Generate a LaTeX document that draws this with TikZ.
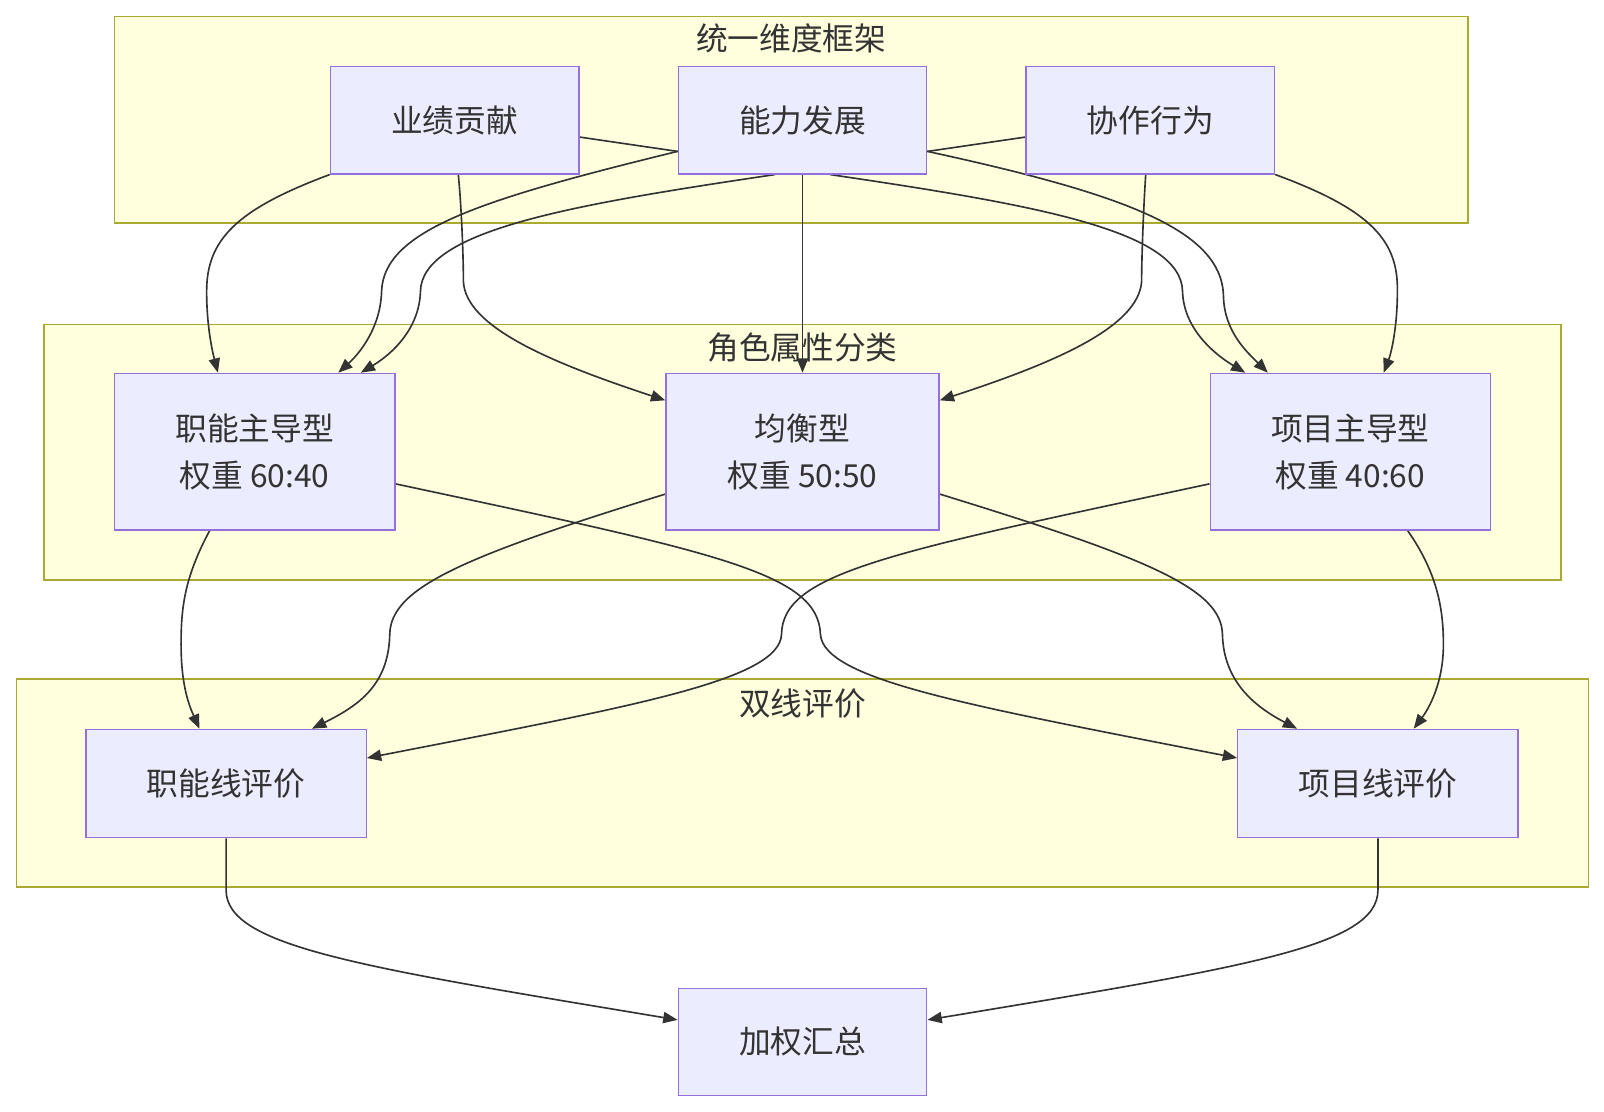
\documentclass[tikz,border=0pt]{standalone}
\usepackage{fontspec}
\setmainfont{Noto Sans CJK SC}
\usepackage{xcolor}
\usepackage{tikz}
\usetikzlibrary{calc, arrows.meta}
\definecolor{nodefill}{HTML}{ECECFF}
\definecolor{nodeline}{HTML}{9370DB}
\definecolor{grpfill}{HTML}{FFFFDE}
\definecolor{grpline}{HTML}{AAAA33}
\definecolor{ink}{HTML}{333333}
\pgfdeclarelayer{bg}
\pgfdeclarelayer{edges}
\pgfsetlayers{bg,edges,main}

\begin{document}
\begin{tikzpicture}[x=1pt, y=-1pt, >={Triangle[length=14pt, width=11pt]},
    box/.style={draw=nodeline, fill=nodefill, line width=1.3pt, text=ink, align=center, inner sep=0pt,
        font=\fontsize{31}{46}\selectfont},
    group/.style={draw=grpline, fill=grpfill, line width=1.5pt, inner sep=0pt},
    grouptitle/.style={text=ink, font=\fontsize{31}{40}\selectfont},
    link/.style={->, draw=ink, line width=1.6pt}]
    \useasboundingbox (0,0) rectangle (1568,1087);

    \begin{pgfonlayer}{bg}
        \node[group, minimum width=1323pt, minimum height=202pt] (c1) at (773.5,117) {};
        \node[group, minimum width=1483pt, minimum height=250pt] (c2) at (784.5,442) {};
        \node[group, minimum width=1537pt, minimum height=203pt] (c3) at (784.5,765.5) {};
    \end{pgfonlayer}
    \node[grouptitle] (t1) at (773.5,38) {统一维度框架};
    \node[grouptitle] (t2) at (784.5,340) {角色属性分类};
    \node[grouptitle] (t3) at (784.5,688) {双线评价};

    \node[box, minimum width=243pt, minimum height=105pt] (yj) at (444.5,117.5) {业绩贡献};
    \node[box, minimum width=243pt, minimum height=105pt] (nl) at (784.5,117.5) {能力发展};
    \node[box, minimum width=243pt, minimum height=105pt] (xz) at (1124.5,117.5) {协作行为};

    \node[box, minimum width=274pt, minimum height=153pt] (zn) at (249,441.5) {职能主导型\\权重 60:40};
    \node[box, minimum width=267pt, minimum height=153pt] (jh) at (784.5,441.5) {均衡型\\权重 50:50};
    \node[box, minimum width=274pt, minimum height=153pt] (xm) at (1320,441.5) {项目主导型\\权重 40:60};

    \node[box, minimum width=274pt, minimum height=106pt] (znx) at (221,766) {职能线评价};
    \node[box, minimum width=274pt, minimum height=106pt] (xmx) at (1347,766) {项目线评价};

    \node[box, minimum width=243pt, minimum height=105pt] (hz) at (784.5,1018.5) {加权汇总};

    \begin{pgfonlayer}{edges}
        \draw[link] (yj.south west) .. controls (230,205) and (202,235) .. (202,285)
            .. controls (202,320) and (208,345) .. ($(zn.north)+(-36,0)$);
        \draw[link] ($(yj.south)+(3.5,0)$) .. controls (451,200) and (453,250) .. (453,275)
            .. controls (455,320) and (540,355) .. ($(jh.north west)+(0,27)$);
        \draw[link] ($(yj.east)+(0,16.5)$) -- ($(nl.west)+(0,30.5)$) -- ($(nl.east)+(0,30.5)$)
            .. controls (1100,190) and (1195,225) .. (1196,290)
            .. controls (1197,325) and (1220,345) .. ($(xm.north west)+(57,0)$);

        \draw[link] ($(nl.south)+(-27,0)$) .. controls (560,200) and (412,225) .. (411,285)
            .. controls (410,320) and (385,345) .. ($(zn.north east)+(-34,0)$);
        \draw[link] (nl.south) -- (jh.north);
        \draw[link] ($(nl.south)+(27,0)$) .. controls (1010,200) and (1155,225) .. (1156,285)
            .. controls (1157,320) and (1185,345) .. ($(xm.north west)+(35,0)$);

        \draw[link] ($(xz.west)+(0,16.5)$) -- ($(nl.east)+(0,30.5)$) -- ($(nl.west)+(0,30.5)$)
            .. controls (470,195) and (375,225) .. (373,285)
            .. controls (372,320) and (352,345) .. ($(zn.north east)+(-56,0)$);
        \draw[link] ($(xz.south)+(-4.5,0)$) .. controls (1118,200) and (1116,250) .. (1116,275)
            .. controls (1113,320) and (1030,355) .. ($(jh.north east)+(0,27)$);
        \draw[link] (xz.south east) .. controls (1340,205) and (1367,235) .. (1366,285)
            .. controls (1366,320) and (1360,345) .. ($(xm.north east)+(-105,0)$);

        \draw[link] ($(zn.south)+(-44,0)$) .. controls (180,565) and (177,595) .. (177,630)
            .. controls (177,670) and (185,690) .. ($(znx.north)+(-26,0)$);
        \draw[link] ($(zn.east)+(0,31.5)$) .. controls (700,540) and (800,560) .. (802,620)
            .. controls (805,665) and (950,690) .. ($(xmx.west)+(0,-25)$);
        \draw[link] ($(jh.west)+(0,41.5)$) .. controls (450,545) and (382,575) .. (381,620)
            .. controls (380,670) and (350,690) .. ($(znx.north)+(84,0)$);
        \draw[link] ($(jh.east)+(0,41.5)$) .. controls (1120,545) and (1194,575) .. (1195,620)
            .. controls (1196,665) and (1225,690) .. ($(xmx.north)+(-79,0)$);
        \draw[link] ($(xm.west)+(0,31.5)$) .. controls (870,540) and (765,560) .. (764,620)
            .. controls (762,665) and (620,690) .. ($(znx.east)+(0,-25)$);
        \draw[link] ($(xm.south)+(56,0)$) .. controls (1405,560) and (1411,595) .. (1411,630)
            .. controls (1411,670) and (1395,695) .. ($(xmx.north)+(35,0)$);

        \draw[link] (znx.south) -- (221,870) .. controls (221,925) and (350,945) .. ($(hz.west)+(0,-21.5)$);
        \draw[link] (xmx.south) -- (1347,870) .. controls (1347,925) and (1220,945) .. ($(hz.east)+(0,-21.5)$);
    \end{pgfonlayer}
\end{tikzpicture}
\end{document}
